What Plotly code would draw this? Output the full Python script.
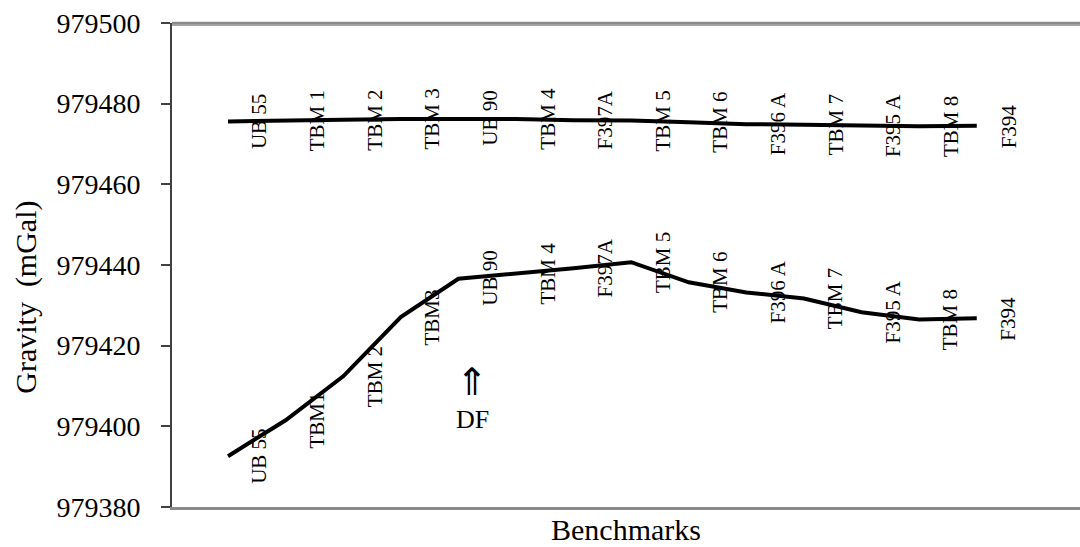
import plotly.graph_objects as go

# ---- data ----
benchmarks = ["UB 55", "TBM 1", "TBM 2", "TBM 3", "UB 90", "TBM 4", "F397A",
              "TBM 5", "TBM 6", "F396 A", "TBM 7", "F395 A", "TBM 8", "F394"]
lower_labels = ["UB 55", "TBM1", "TBM 2", "TBM3", "UB 90", "TBM 4", "F397A",
                "TBM 5", "TBM 6", "F396 A", "TBM 7", "F395 A", "TBM 8", "F394"]
upper_gravity = [979475.6, 979475.7, 979476.0, 979476.2, 979476.3, 979476.2, 979475.9,
                 979475.8, 979475.4, 979474.9, 979474.8, 979474.5, 979474.4, 979474.5]
lower_gravity = [979392.6, 979401.5, 979412.4, 979427.1, 979436.6, 979437.8, 979439.2,
                 979440.7, 979435.7, 979433.2, 979431.7, 979428.3, 979426.5, 979426.8]
y_ticks = [979380, 979400, 979420, 979440, 979460, 979480, 979500]

idx = list(range(len(benchmarks)))
FONT = "Liberation Serif, Times New Roman, serif"

fig = go.Figure()
for series in (upper_gravity, lower_gravity):
    fig.add_trace(go.Scatter(x=idx, y=series, mode="lines",
                             line=dict(color="black", width=4),
                             hoverinfo="skip", showlegend=False))

annotations = []
LABEL_DX = 0.55
for k, (lab_u, lab_l) in enumerate(zip(benchmarks, lower_labels)):
    annotations.append(dict(x=k + LABEL_DX, y=upper_gravity[k], xref="x", yref="y",
                            text=lab_u, textangle=-90, showarrow=False,
                            xanchor="center", yanchor="middle",
                            font=dict(family=FONT, size=21, color="black")))
    annotations.append(dict(x=k + LABEL_DX, y=lower_gravity[k], xref="x", yref="y",
                            text=lab_l, textangle=-90, showarrow=False,
                            xanchor="center", yanchor="middle",
                            font=dict(family=FONT, size=21, color="black")))

# DF marker
annotations.append(dict(x=4.24, y=979410.9, xref="x", yref="y", text="⇑",
                        showarrow=False, xanchor="center", yanchor="middle",
                        font=dict(family=FONT, size=38, color="black")))
annotations.append(dict(x=4.24, y=979401.6, xref="x", yref="y", text="DF",
                        showarrow=False, xanchor="center", yanchor="middle",
                        font=dict(family=FONT, size=26, color="black")))

# axis titles
annotations.append(dict(x=-0.161, y=0.434, xref="paper", yref="paper",
                        text="Gravity  (mGal)", textangle=-90, showarrow=False,
                        xanchor="center", yanchor="middle",
                        font=dict(family=FONT, size=30, color="black")))
annotations.append(dict(x=0.50, y=-0.047, xref="paper", yref="paper",
                        text="Benchmarks", showarrow=False,
                        xanchor="center", yanchor="middle",
                        font=dict(family=FONT, size=30, color="black")))

fig.update_layout(
    width=1080, height=547,
    margin=dict(l=172, r=0, t=23, b=40),
    paper_bgcolor="white", plot_bgcolor="white",
    showlegend=False,
    annotations=annotations,
    # top edge of the plot frame
    shapes=[dict(type="line", xref="paper", yref="paper", x0=0, x1=1, y0=1, y1=1,
                 line=dict(color="#8a8a8a", width=2.5), layer="above"),
            dict(type="line", xref="paper", yref="paper", x0=0, x1=1, y0=0.996, y1=0.996,
                 line=dict(color="#8a8a8a", width=1.5), layer="above")],
    xaxis=dict(range=[-0.972, 14.792], showgrid=False, zeroline=False,
               showticklabels=False, ticks="", showline=True,
               linecolor="#8a8a8a", linewidth=2.5),
    yaxis=dict(range=[979380, 979500], tickvals=y_ticks,
               ticktext=[str(v) for v in y_ticks],
               showgrid=False, zeroline=False,
               ticks="outside", ticklen=9, tickwidth=1.5, tickcolor="#404040",
               showline=True, linecolor="#404040", linewidth=2,
               ticklabelstandoff=15, ticklabeloverflow="allow",
               tickfont=dict(family=FONT, size=28, color="black")),
)

# remove the default page margin so the 1080x547 figure fills the window exactly
fig.write_html("out.html", config={"displayModeBar": False},
               post_script="document.body.style.margin='0';document.body.style.overflow='hidden';")
